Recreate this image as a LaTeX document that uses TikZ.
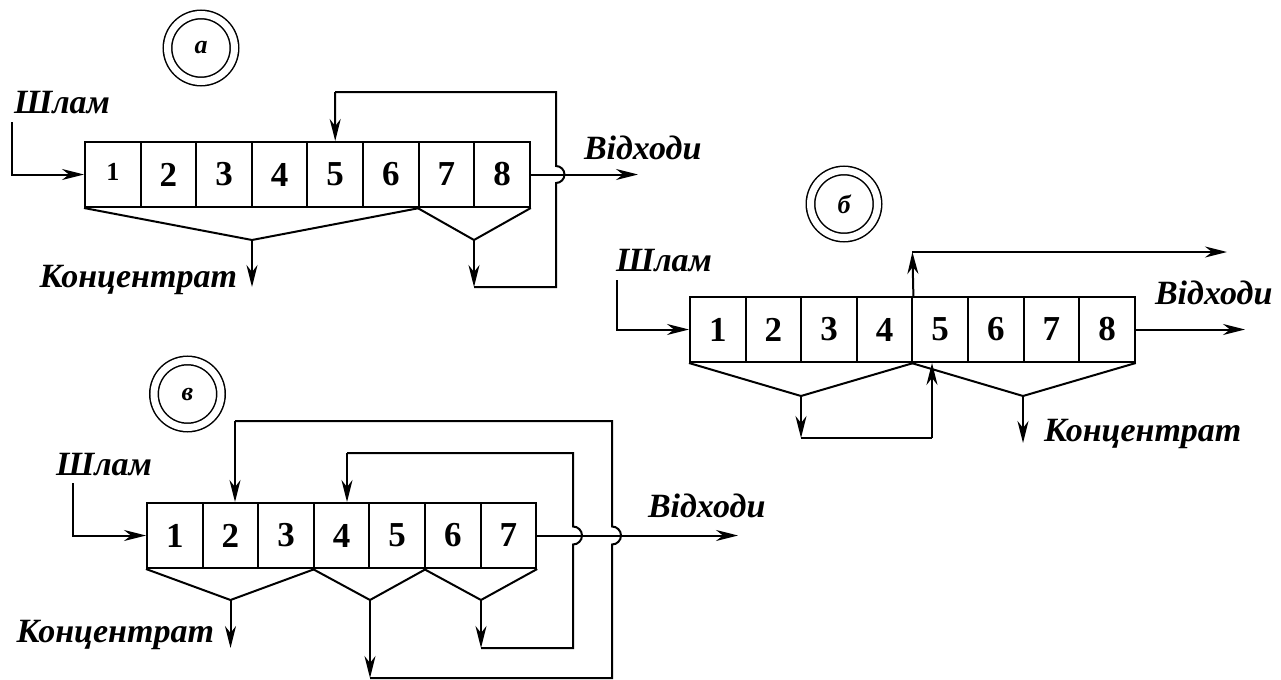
\documentclass[tikz,border=0pt]{standalone}
\usepackage{fontspec}
\setmainfont{Liberation Serif}
\usetikzlibrary{arrows.meta}

\begin{document}
\begin{tikzpicture}[x=0.5pt,y=-0.5pt,line width=1pt,>={Stealth[length=11pt,width=5.5pt,inset=3.5pt]}]
  \tikzstyle{cell}=[draw,line width=1pt,minimum width=27.8pt,minimum height=32.5pt,inner sep=0pt,font=\bfseries\fontsize{17.5}{17.5}\selectfont]
  \tikzstyle{lbl}=[inner sep=0pt,font=\bfseries\itshape\fontsize{17}{17}\selectfont]
  \tikzstyle{tag}=[circle,draw,double,line width=0.75pt,double distance=3.5pt,minimum size=33.5pt,inner sep=0pt,font=\bfseries\itshape\fontsize{13}{13}\selectfont]
  \useasboundingbox (0,0) rectangle (1281,680);

  % scheme a
  \node[tag] (taga) at (201,48) {а};
  \node[cell] (a1) at (112.8,174.5) {\fontsize{13}{13}\selectfont\raisebox{3pt}{1}};
  \foreach \i in {2,...,8}
    \node[cell] (a\i) at ({85+27.8+(\i-1)*55.6},174.5) {\i};
  \node[lbl,anchor=base west] (slama) at (13,113) {Шлам};
  \node[lbl,anchor=base east] (conca) at (238,287) {Концентрат};
  \node[lbl,anchor=base west] (outla) at (583,159) {Відходи};
  \coordinate (fa) at (12,122);
  \coordinate (apa1) at (252,240);
  \coordinate (apa2) at (474,240);
  \coordinate (ca) at (252,287);
  \coordinate (ra1) at (474,287);
  \coordinate (ra2) at (556,287);
  \coordinate (ra3) at (556,92);
  \coordinate (ra4) at (335.2,92);
  \coordinate (oa) at (638,174.5);
  \draw[->] (fa) |- (a1.west);
  \draw (a1.south west) -- (apa1) -- (a6.south east);
  \draw (a7.south west) -- (apa2) -- (a8.south east);
  \draw[->] (apa1) -- (ca);
  \draw[->] (apa2) -- (ra1);
  \draw (ra1) -- (ra2) -- (556,183) arc[start angle=90,end angle=-90,radius=8.5] -- (ra3) -- (ra4);
  \draw[->] (ra4) -- (a5.north);
  \draw[->] (a8.east) -- (oa);

  % scheme b
  \node[tag] (tagb) at (844,204) {б};
  \foreach \i in {1,...,8}
    \node[cell] (b\i) at ({690+27.8+(\i-1)*55.6},329.5) {\i};
  \node[lbl,anchor=base west] (slamb) at (615,271) {Шлам};
  \node[lbl,anchor=base west] (outlb) at (1154,304) {Відходи};
  \node[lbl,anchor=base west] (concb) at (1043,441) {Концентрат};
  \coordinate (fb) at (617,280);
  \coordinate (apb1) at (801,396);
  \coordinate (apb2) at (1023,396);
  \coordinate (rb1) at (801,438);
  \coordinate (rb2) at (932,438);
  \coordinate (tb) at (912.4,252);
  \coordinate (tbo) at (1227,252);
  \coordinate (cb) at (1023,443);
  \coordinate (ob) at (1245,329.5);
  \draw[->] (fb) |- (b1.west);
  \draw (b1.south west) -- (apb1) -- (b4.south east);
  \draw (b5.south west) -- (apb2) -- (b8.south east);
  \draw[->] (apb1) -- (rb1);
  \draw (rb1) -- (rb2);
  \draw[->] (rb2) -- (rb2 |- b5.south);
  \draw[->] (b4.north east) -- (tb);
  \draw[->] (tb) -- (tbo);
  \draw[->] (apb2) -- (cb);
  \draw[->] (b8.east) -- (ob);

  % scheme c
  \node[tag] (tagc) at (187.5,394) {в};
  \foreach \i in {1,...,7}
    \node[cell] (c\i) at ({147+27.8+(\i-1)*55.6},535.5) {\i};
  \node[lbl,anchor=base west] (slamc) at (55,475) {Шлам};
  \node[lbl,anchor=base west] (outlc) at (647,517) {Відходи};
  \node[lbl,anchor=base east] (concc) at (215,642) {Концентрат};
  \coordinate (fc) at (73,483);
  \coordinate (apc1) at (230.5,600);
  \coordinate (apc2) at (370,600);
  \coordinate (apc3) at (481,600);
  \coordinate (cc) at (230.5,648);
  \coordinate (rc1) at (370,678);
  \coordinate (rc2) at (612,678);
  \coordinate (rc3) at (612,421);
  \coordinate (rc4) at (235,421);
  \coordinate (sc1) at (481,648);
  \coordinate (sc2) at (573,648);
  \coordinate (sc3) at (573,453);
  \coordinate (sc4) at (347,453);
  \coordinate (oc) at (738,535.5);
  \draw[->] (fc) |- (c1.west);
  \draw (c1.south west) -- (apc1) -- (c3.south east);
  \draw (c4.south west) -- (apc2) -- (c5.south east);
  \draw (c6.south west) -- (apc3) -- (c7.south east);
  \draw[->] (apc1) -- (cc);
  \draw[->] (apc2) -- (rc1);
  \draw (rc1) -- (rc2) -- (612,544.5) arc[start angle=90,end angle=-90,radius=9] -- (rc3) -- (rc4);
  \draw[->] (rc4) -- (rc4 |- c2.north);
  \draw[->] (apc3) -- (sc1);
  \draw (sc1) -- (sc2) -- (573,544.5) arc[start angle=90,end angle=-90,radius=9] -- (sc3) -- (sc4);
  \draw[->] (sc4) -- (sc4 |- c4.north);
  \draw[->] (c7.east) -- (oc);
\end{tikzpicture}
\end{document}
